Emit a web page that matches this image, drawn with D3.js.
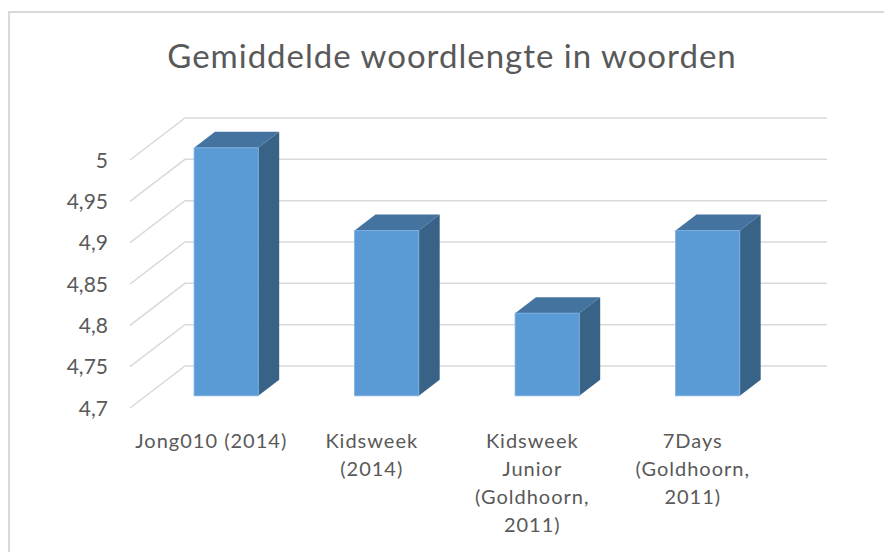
<!DOCTYPE html>
<html>
<head>
<meta charset="utf-8">
<script src="https://cdn.jsdelivr.net/npm/d3@7"></script>
<style>
  body { margin: 0; background: #fff; }
  text { font-family: Lato, "Open Sans", sans-serif; fill: #595959; }
</style>
</head>
<body>
<svg id="chart" width="884" height="552"></svg>
<script>
var categories = [
    ["Jong010 (2014)"],
    ["Kidsweek", "(2014)"],
    ["Kidsweek", "Junior", "(Goldhoorn,", "2011)"],
    ["7Days", "(Goldhoorn,", "2011)"]
];
var waarden = [5.0, 4.9, 4.8, 4.9];
var ticks = [4.7, 4.75, 4.8, 4.85, 4.9, 4.95, 5];
var titel = "Gemiddelde woordlengte in woorden";

var svg = d3.select("#chart");
var fmt = d => String(d).replace(".", ",");

// front plane of the 3d box
var links = 130, rechts = 772, onder = 408, boven = 160;
// depth of the box
var dx = 55, dy = -42;
var barVoor = 0.29, barDiep = 0.38;

var xScale = d3.scaleBand().domain(d3.range(categories.length))
    .range([links, rechts]).paddingInner(0.6).paddingOuter(0.3);
var yScale = d3.scaleLinear().domain([4.7, 5]).range([onder, boven]);

// chart border
svg.append("rect")
    .attr("x", 9).attr("y", 12)
    .attr("width", 884).attr("height", 560)
    .attr("fill", "none").attr("stroke", "#d9d9d9").attr("stroke-width", 2);

svg.append("text")
    .attr("x", 452).attr("y", 68)
    .attr("text-anchor", "middle")
    .style("font-size", "33px")
    .style("letter-spacing", "1px")
    .text(titel);

// grid: side wall diagonals and back wall lines
var grid = svg.append("g").attr("stroke", "#d9d9d9").attr("stroke-width", 1.5).attr("fill", "none");
grid.selectAll("path")
    .data(ticks)
    .enter()
    .append("path")
    .attr("d", function(d) {
        var y = yScale(d);
        return `M${links},${y}L${links + dx},${y + dy}L${rechts + dx},${y + dy}`;
    });

svg.append("g")
    .selectAll("text")
    .data(ticks)
    .enter()
    .append("text")
    .attr("x", 108)
    .attr("y", d => yScale(d))
    .attr("dy", "0.36em")
    .attr("text-anchor", "end")
    .style("font-size", "21px")
    .text(fmt);

// bars
var bars = svg.append("g")
    .selectAll("g")
    .data(waarden)
    .enter()
    .append("g");

function hoek(i, v, d, rechterkant) {
    var x = xScale(i) + (rechterkant ? xScale.bandwidth() : 0) + dx * d;
    var y = yScale(v) + dy * d;
    return [x, y];
}

bars.append("path")
    .attr("fill", "#44739f")
    .attr("d", function(v, i) {
        var d2 = barVoor + barDiep;
        var p = [hoek(i, v, barVoor, false), hoek(i, v, barVoor, true), hoek(i, v, d2, true), hoek(i, v, d2, false)];
        return "M" + p.join("L") + "Z";
    });

bars.append("path")
    .attr("fill", "#386386")
    .attr("d", function(v, i) {
        var d2 = barVoor + barDiep;
        var p = [hoek(i, v, barVoor, true), hoek(i, v, d2, true), hoek(i, 4.7, d2, true), hoek(i, 4.7, barVoor, true)];
        return "M" + p.join("L") + "Z";
    });

bars.append("rect")
    .attr("fill", "#5b9bd5")
    .attr("stroke", "#7aaee0")
    .attr("stroke-width", 0.8)
    .attr("x", (v, i) => hoek(i, v, barVoor, false)[0])
    .attr("y", (v, i) => hoek(i, v, barVoor, false)[1])
    .attr("width", xScale.bandwidth())
    .attr("height", v => yScale(4.7) - yScale(v));

// category labels
var labels = svg.append("g")
    .selectAll("text")
    .data(categories)
    .enter()
    .append("text")
    .attr("text-anchor", "middle")
    .style("font-size", "20px")
    .style("letter-spacing", "1px")
    .attr("transform", (d, i) => `translate(${xScale(i) + xScale.bandwidth() / 2 + 1},448)`);

labels.selectAll("tspan")
    .data(d => d)
    .enter()
    .append("tspan")
    .attr("x", 0)
    .attr("y", (d, j) => j * 28)
    .text(d => d);
</script>
</body>
</html>
